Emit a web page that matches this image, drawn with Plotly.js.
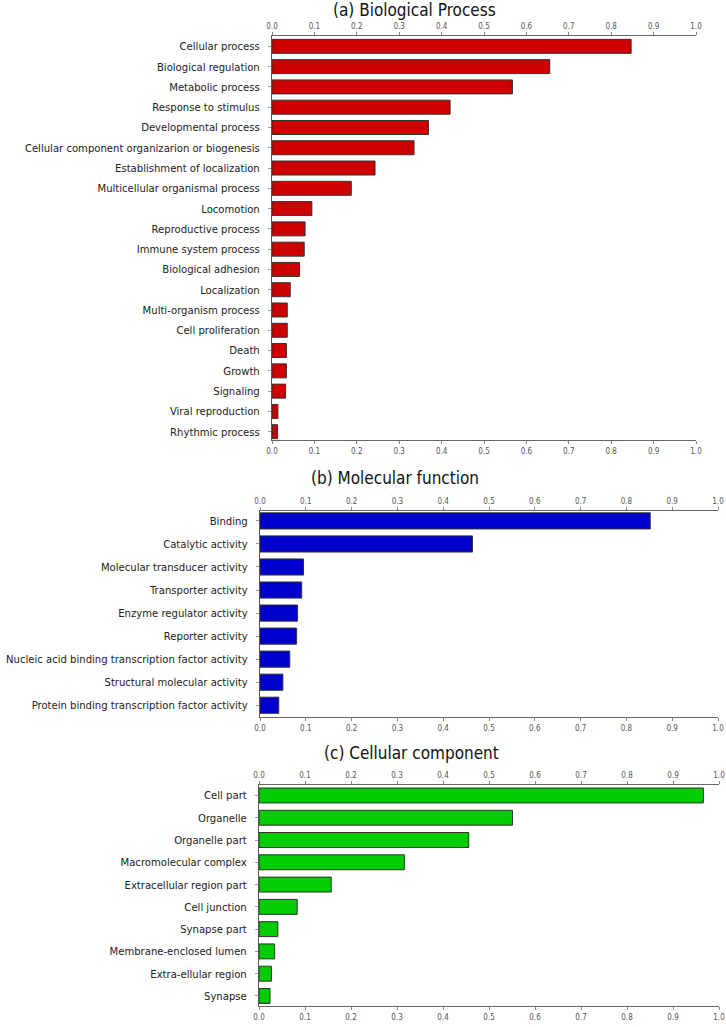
<!DOCTYPE html>
<html>
<head>
<meta charset="utf-8">
<script src="https://cdn.plot.ly/plotly-3.0.1.min.js"></script>
<style>
  body { margin: 0; background: #fff; }
  #chart { width: 726px; height: 1027px; }
</style>
</head>
<body>
<div id="chart"></div>
<script>
// (a) Biological Process
const bpTerms = ["Cellular process", "Biological regulation", "Metabolic process", "Response to stimulus",
  "Developmental process", "Cellular component organizarion or biogenesis", "Establishment of localization",
  "Multicellular organismal process", "Locomotion", "Reproductive process", "Immune system process",
  "Biological adhesion", "Localization", "Multi-organism process", "Cell proliferation", "Death",
  "Growth", "Signaling", "Viral reproduction", "Rhythmic process"];
const bpValues = [0.847, 0.655, 0.567, 0.42, 0.369, 0.335, 0.243, 0.187, 0.094, 0.078, 0.076,
  0.065, 0.043, 0.036, 0.036, 0.034, 0.034, 0.032, 0.014, 0.013];

// (b) Molecular function
const mfTerms = ["Binding", "Catalytic activity", "Molecular transducer activity", "Transporter activity",
  "Enzyme regulator activity", "Reporter activity", "Nucleic acid binding transcription factor activity",
  "Structural molecular activity", "Protein binding transcription factor activity"];
const mfValues = [0.852, 0.464, 0.095, 0.091, 0.082, 0.080, 0.065, 0.050, 0.041];

// (c) Cellular component
const ccTerms = ["Cell part", "Organelle", "Organelle part", "Macromolecular complex",
  "Extracellular region part", "Cell junction", "Synapse part", "Membrane-enclosed lumen",
  "Extra-ellular region", "Synapse"];
const ccValues = [0.966, 0.551, 0.456, 0.316, 0.157, 0.083, 0.041, 0.034, 0.027, 0.024];

const panelTitles = ["(a) Biological Process", "(b) Molecular function", "(c) Cellular component"];
const tickVals = [0, 0.1, 0.2, 0.3, 0.4, 0.5, 0.6, 0.7, 0.8, 0.9, 1.0];

const font = "'Liberation Sans Narrow', 'DejaVu Sans Condensed', 'Roboto', sans-serif";

function barTrace(terms, vals, color, xa, ya, w) {
  return {
    type: 'bar', orientation: 'h',
    x: vals, y: terms,
    xaxis: xa, yaxis: ya,
    width: w,
    marker: { color: color, line: { color: '#333333', width: 1 } },
    hoverinfo: 'x+y'
  };
}

// empty traces so the bottom (overlay) axes get drawn
function axisHolder(xa, ya) {
  return { type: 'scatter', mode: 'markers', x: [], y: [], xaxis: xa, yaxis: ya, hoverinfo: 'skip' };
}

const data = [
  barTrace(bpTerms, bpValues, '#cc0000', 'x', 'y', 0.69),
  barTrace(mfTerms, mfValues, '#0000cc', 'x3', 'y2', 0.7),
  barTrace(ccTerms, ccValues, '#00cc00', 'x5', 'y3', 0.67),
  axisHolder('x2', 'y'),
  axisHolder('x4', 'y2'),
  axisHolder('x6', 'y3')
];

function xAxis(dom, anchor, side, over) {
  const ax = {
    domain: dom, anchor: anchor, side: side,
    range: [0, 1], tickvals: tickVals, tickformat: '.1f',
    showgrid: false, zeroline: false,
    showline: true, linecolor: '#666', linewidth: 1,
    ticks: 'outside', ticklen: 3, tickcolor: '#888',
    tickfont: { family: font, size: 8, color: '#555' },
    fixedrange: true
  };
  if (over) { ax.overlaying = over; ax.matches = over; }
  return ax;
}

function yAxis(dom, anchor, rng) {
  return {
    domain: dom, anchor: anchor,
    type: 'category', range: rng,
    showgrid: false, zeroline: false,
    showline: true, linecolor: '#555', linewidth: 1,
    ticks: 'outside', ticklen: 3, tickcolor: '#999',
    ticklabelstandoff: 6,
    tickfont: { family: font, size: 11.2, color: '#222' },
    fixedrange: true
  };
}

const H = 1027, W = 726;
const py = v => 1 - v / H;
const px = v => v / W;

const layout = {
  width: W, height: H,
  margin: { l: 0, r: 0, t: 0, b: 0 },
  paper_bgcolor: '#fff', plot_bgcolor: '#fff',
  showlegend: false,
  xaxis: xAxis([px(272), px(696)], 'y', 'top'),
  xaxis2: xAxis([px(272), px(696)], 'y', 'bottom', 'x'),
  yaxis: yAxis([py(440), py(36)], 'x', [19.41, -0.51]),
  xaxis3: xAxis([px(260), px(718)], 'y2', 'top'),
  xaxis4: xAxis([px(260), px(718)], 'y2', 'bottom', 'x3'),
  yaxis2: yAxis([py(717), py(511)], 'x3', [8.51, -0.43]),
  xaxis5: xAxis([px(259), px(719)], 'y3', 'top'),
  xaxis6: xAxis([px(259), px(719)], 'y3', 'bottom', 'x5'),
  yaxis3: yAxis([py(1006), py(785)], 'x5', [9.45, -0.47]),
  annotations: [
    { text: panelTitles[0], x: px(415), y: py(10) },
    { text: panelTitles[1], x: px(395), y: py(478) },
    { text: panelTitles[2], x: px(412), y: py(753) }
  ].map(a => Object.assign(a, {
    xref: 'paper', yref: 'paper', xanchor: 'center', yanchor: 'middle',
    showarrow: false, font: { family: font, size: 17, color: '#111' }
  }))
};

Plotly.newPlot('chart', data, layout, { displayModeBar: false, staticPlot: true });
</script>
</body>
</html>
